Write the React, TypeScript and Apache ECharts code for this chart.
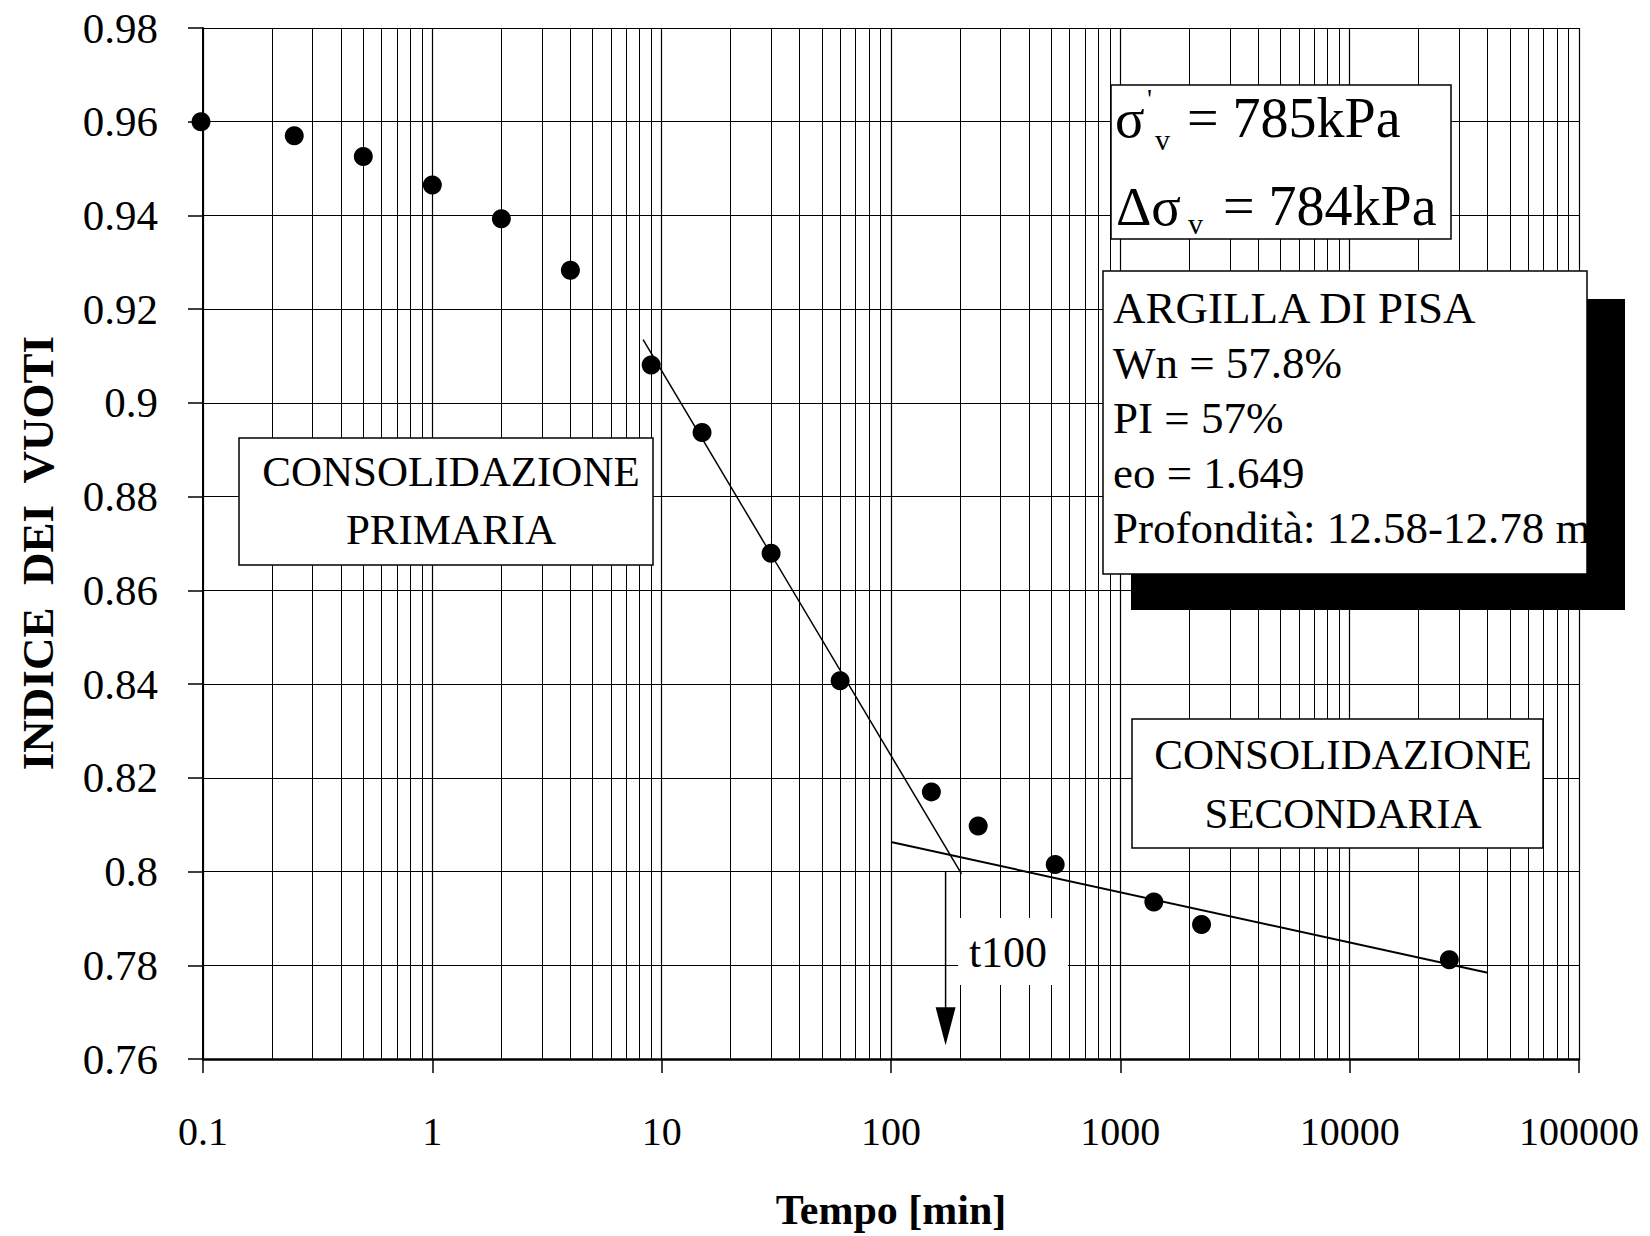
import React, { useEffect, useRef } from "react";
import * as echarts from "echarts";

// ---- data ----
const timeMin = [0.098, 0.25, 0.5, 1, 2, 4, 9, 15, 30, 60, 150, 240, 520, 1400, 2260, 27200];
const voidRatio = [0.96, 0.957, 0.9526, 0.9465, 0.9393, 0.9283, 0.9081, 0.8937, 0.8679, 0.8407, 0.817, 0.8097, 0.8015, 0.7935, 0.7887, 0.7812];

const primaryLineX = [8.3, 203];
const primaryLineY = [0.9135, 0.7995];
const secondaryLineX = [100, 40000];
const secondaryLineY = [0.8063, 0.7784];

const t100Time = 173;
const arrowShaftY = [0.8, 0.7665];
const arrowHeadY = 0.767;

const xMin = 0.1;
const xMax = 100000;
const decadeStarts = [0.1, 1, 10, 100, 1000, 10000];
const minorMultipliers = [2, 3, 4, 5, 6, 7, 8, 9];
const yMin = 0.76;
const yMax = 0.98;
const yStep = 0.02;

const yTitle = "INDICE  DEI  VUOTI";
const xTitle = "Tempo [min]";
const boxPrimary = ["CONSOLIDAZIONE", "PRIMARIA"];
const boxSecondary = ["CONSOLIDAZIONE", "SECONDARIA"];
const infoLines = ["ARGILLA DI PISA", "Wn = 57.8%", "PI = 57%", "eo = 1.649", "Profondità: 12.58-12.78 m"];

const FONT = "'Liberation Serif', 'Times New Roman', serif";

export default function App() {
  const ref = useRef<HTMLDivElement>(null);

  useEffect(() => {
    document.body.style.margin = "0";
    if (!ref.current) return;
    const chart = echarts.init(ref.current, null, { renderer: "svg" });

    const minorGrid: any[] = [];
    decadeStarts.forEach((d) => {
      minorMultipliers.forEach((m) => {
        minorGrid.push({ xAxis: parseFloat((d * m).toPrecision(6)) });
      });
    });

    const txt = (text: string, x: number, y: number, size: number, align: string = "left", extra: any = {}) => ({
      type: "text",
      x,
      y,
      z: 110,
      rotation: extra.rotation || 0,
      silent: true,
      style: {
        text,
        fill: "#000",
        font: `${extra.weight || "normal"} ${size}px ${FONT}`,
        textAlign: align,
        textVerticalAlign: "middle",
      },
    });

    const rect = (x: number, y: number, w: number, h: number, fill: string, stroke: string | null, z = 100) => ({
      type: "rect",
      z,
      silent: true,
      shape: { x, y, width: w, height: h },
      style: { fill, stroke: stroke || undefined, lineWidth: stroke ? 1.5 : 0 },
    });

    const graphic: any[] = [
      // y axis title
      txt(yTitle, 38, 553, 45, "center", { weight: "bold", rotation: Math.PI / 2 }),
      // primary box
      rect(239, 438, 414, 127, "#fff", "#000"),
      txt(boxPrimary[0], 451, 471, 43, "center"),
      txt(boxPrimary[1], 451, 529, 43, "center"),
      // secondary box
      rect(1132, 719, 411, 129, "#fff", "#000"),
      txt(boxSecondary[0], 1343, 754, 43, "center"),
      txt(boxSecondary[1], 1343, 813, 43, "center"),
      // stress box
      rect(1111, 85, 340, 154, "#fff", "#000"),
      txt("σ", 1115, 118, 55),
      txt("'", 1147, 98, 28),
      txt("v", 1155, 139, 30),
      txt("= 785kPa", 1187, 118, 56),
      txt("Δσ", 1116, 206, 55),
      txt("v", 1188, 223, 30),
      txt("= 784kPa", 1223, 206, 56),
      // info box with shadow
      rect(1131, 299, 494, 311, "#000", null, 99),
      rect(1103, 271, 484, 303, "#fff", "#000"),
      ...infoLines.map((l, i) => txt(l, 1113, 308 + i * 55, 45)),
      // t100 label
      rect(958, 918, 110, 67, "#fff", null),
      txt("t100", 1008, 952, 44, "center"),
    ];

    const option: any = {
      animation: false,
      backgroundColor: "#fff",
      grid: { left: 203, right: 71, top: 28, bottom: 177, containLabel: false },
      xAxis: {
        type: "log",
        logBase: 10,
        min: xMin,
        max: xMax,
        name: xTitle,
        nameLocation: "middle",
        nameGap: 130,
        nameTextStyle: { fontFamily: FONT, fontWeight: "bold", fontSize: 42, color: "#000" },
        axisLine: { show: true, onZero: false, lineStyle: { color: "#000", width: 2.5 } },
        axisTick: { show: true, length: 14, lineStyle: { color: "#000", width: 1.5 } },
        axisLabel: {
          fontFamily: FONT,
          fontSize: 40,
          color: "#000",
          margin: 52,
          formatter: (v: number) => String(parseFloat(Number(v).toPrecision(6))),
        },
        splitLine: { show: true, lineStyle: { color: "#000", width: 1.2 } },
      },
      yAxis: {
        type: "value",
        min: yMin,
        max: yMax,
        interval: yStep,
        axisLine: { show: true, lineStyle: { color: "#000", width: 2 } },
        axisTick: { show: true, length: 15, lineStyle: { color: "#000", width: 1.5 } },
        axisLabel: {
          fontFamily: FONT,
          fontSize: 43,
          color: "#000",
          margin: 45,
          formatter: (v: number) => String(parseFloat(Number(v).toFixed(2))),
        },
        splitLine: { show: true, lineStyle: { color: "#000", width: 1.2 } },
      },
      series: [
        {
          name: "grid",
          type: "line",
          data: [],
          z: 1,
          silent: true,
          markLine: {
            silent: true,
            symbol: ["none", "none"],
            label: { show: false },
            emphasis: { disabled: true },
            lineStyle: { color: "#000", width: 1, type: "solid" },
            data: minorGrid,
          },
        },
        {
          name: "primaria",
          type: "line",
          data: primaryLineX.map((x, i) => [x, primaryLineY[i]]),
          showSymbol: false,
          symbol: "none",
          lineStyle: { color: "#000", width: 1.5 },
          z: 3,
          silent: true,
        },
        {
          name: "secondaria",
          type: "line",
          data: secondaryLineX.map((x, i) => [x, secondaryLineY[i]]),
          showSymbol: false,
          symbol: "none",
          lineStyle: { color: "#000", width: 2 },
          z: 3,
          silent: true,
        },
        {
          name: "t100 shaft",
          type: "line",
          data: arrowShaftY.map((y) => [t100Time, y]),
          showSymbol: false,
          symbol: "none",
          lineStyle: { color: "#000", width: 1.5 },
          z: 3,
          silent: true,
        },
        {
          name: "t100 head",
          type: "scatter",
          data: [[t100Time, arrowHeadY]],
          symbol: "triangle",
          symbolRotate: 180,
          symbolSize: [20, 38],
          itemStyle: { color: "#000", opacity: 1 },
          z: 4,
          silent: true,
        },
        {
          name: "e",
          type: "scatter",
          clip: false,
          data: timeMin.map((t, i) => [t, voidRatio[i]]),
          symbol: "circle",
          symbolSize: 19,
          itemStyle: { color: "#000", opacity: 1 },
          z: 5,
        },
      ],
      graphic,
    };

    chart.setOption(option);
    return () => chart.dispose();
  }, []);

  return <div ref={ref} style={{ width: 1650, height: 1236 }} />;
}
